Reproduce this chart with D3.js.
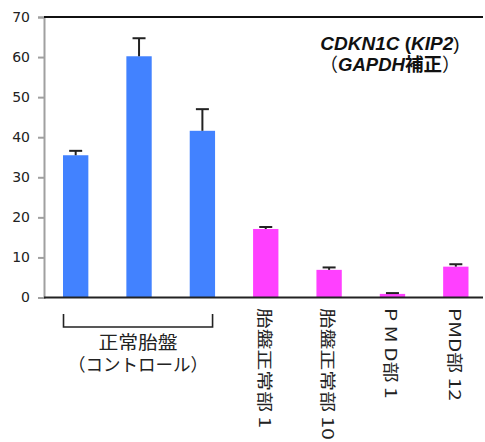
<!DOCTYPE html>
<html>
<head>
<meta charset="utf-8">
<script src="https://cdn.jsdelivr.net/npm/d3@7"></script>
<style>
  html, body { margin: 0; padding: 0; background: #fff; }
  svg { display: block; }
</style>
</head>
<body>
<svg id="chart" width="485" height="442"></svg>
<script>
// Sample groups and CDKN1C (KIP2) expression normalised to GAPDH
const categories = ["N1", "N2", "N3", "胎盤正常部 1", "胎盤正常部 10", "P M D部 1", "PMD部 12"];
const groups     = ["control", "control", "control", "sample", "sample", "sample", "sample"];
const values     = [35.5, 60.2, 41.6, 17.1, 6.9, 0.9, 7.7];
const errors     = [1.1, 4.5, 5.4, 0.5, 0.6, 0.2, 0.6];
const yTicks     = [0, 10, 20, 30, 40, 50, 60, 70];
const rotatedLabels = ["胎盤正常部 1", "胎盤正常部 10", "P M D部 1", "PMD部 12"];
const controlLabel  = ["正常胎盤", "（コントロール）"];

const colors = { control: "#4282ff", sample: "#ff40ff" };

const svg = d3.select("#chart");
const plotLeft = 44, plotRight = 483, plotTop = 17, plotBottom = 297.5;

const x = d3.scaleBand()
  .domain(categories)
  .range([plotLeft, 487.5])
  .paddingInner(0.6)
  .paddingOuter(0.3);

const y = d3.scaleLinear().domain([0, 70]).range([plotBottom, plotTop]);

// y axis
const yAxis = svg.append("g")
  .attr("transform", `translate(${plotLeft},0)`)
  .call(d3.axisLeft(y).tickValues(yTicks).tickSize(6).tickPadding(8));
yAxis.select(".domain").attr("stroke", "#a0a0a0").attr("stroke-width", 2);
yAxis.selectAll(".tick line").attr("stroke", "#a0a0a0").attr("stroke-width", 2);
yAxis.selectAll(".tick text")
  .attr("fill", "#222")
  .style("font-family", "'DejaVu Sans', Verdana, sans-serif")
  .style("font-size", "14px");

// top frame line
svg.append("line")
  .attr("x1", plotLeft).attr("x2", plotRight)
  .attr("y1", y(70)).attr("y2", y(70))
  .attr("stroke", "#111").attr("stroke-width", 1.8);

// bars
svg.append("g").selectAll("rect")
  .data(categories)
  .join("rect")
  .attr("x", d => x(d))
  .attr("width", x.bandwidth())
  .attr("y", (d, i) => y(values[i]))
  .attr("height", (d, i) => y(0) - y(values[i]))
  .attr("fill", (d, i) => colors[groups[i]]);

// error bars (upper only)
const eb = svg.append("g").attr("stroke", "#222").attr("stroke-width", 2);
categories.forEach((c, i) => {
  const cx = x(c) + x.bandwidth() / 2;
  eb.append("line")
    .attr("x1", cx).attr("x2", cx)
    .attr("y1", y(values[i])).attr("y2", y(values[i] + errors[i]));
  eb.append("line")
    .attr("x1", cx - 6.5).attr("x2", cx + 6.5)
    .attr("y1", y(values[i] + errors[i])).attr("y2", y(values[i] + errors[i]));
});

// baseline
svg.append("line")
  .attr("x1", plotLeft).attr("x2", plotRight)
  .attr("y1", y(0)).attr("y2", y(0))
  .attr("stroke", "#222").attr("stroke-width", 2);

// title
const cjk = "'Noto Sans CJK JP', sans-serif";
const title = svg.append("g")
  .style("font-family", "'Liberation Sans', Arial, 'Noto Sans CJK JP', sans-serif")
  .style("font-weight", "bold")
  .attr("fill", "#111");
const t1 = title.append("text").attr("x", 390).attr("y", 50)
  .attr("text-anchor", "middle").style("font-size", "19px");
t1.append("tspan").style("font-style", "italic").text("CDKN1C");
t1.append("tspan").text(" (");
t1.append("tspan").style("font-style", "italic").text("KIP2");
t1.append("tspan").style("font-weight", "normal").text(")");
const t2 = title.append("text").attr("x", 390).attr("y", 71)
  .attr("text-anchor", "middle").style("font-size", "18.5px");
t2.append("tspan").style("font-family", cjk).style("font-weight", "normal").text("（");
t2.append("tspan").style("font-style", "italic").text("GAPDH");
t2.append("tspan").style("font-family", cjk).text("補正");
t2.append("tspan").style("font-family", cjk).style("font-weight", "normal").text("）");

// control-group bracket and label
const bx0 = x(categories[0]) + 0.5;
const bx1 = x(categories[2]) + x.bandwidth() - 2.5;
svg.append("path")
  .attr("d", `M${bx0},314 V327 H${bx1} V314`)
  .attr("fill", "none").attr("stroke", "#222").attr("stroke-width", 1.6);

const bmid = (bx0 + bx1) / 2;
svg.append("text")
  .attr("transform", `translate(${bmid},349) scale(1.1,1)`)
  .attr("text-anchor", "middle")
  .style("font-family", cjk).style("font-size", "18px").attr("fill", "#222")
  .text(controlLabel[0]);
svg.append("text")
  .attr("transform", `translate(${bmid},371)`)
  .attr("text-anchor", "middle")
  .style("font-family", cjk).style("font-size", "17.5px").attr("fill", "#222")
  .text(controlLabel[1]);

// rotated sample labels
svg.append("g").selectAll("text")
  .data(rotatedLabels)
  .join("text")
  .attr("transform", d => `translate(${x(d) + x.bandwidth() / 2 - 1.5},308) rotate(90) scale(1.3,1)`)
  .attr("dy", "0.35em")
  .style("font-family", cjk).style("font-size", "16px").attr("fill", "#222")
  .text(d => d);
</script>
</body>
</html>
